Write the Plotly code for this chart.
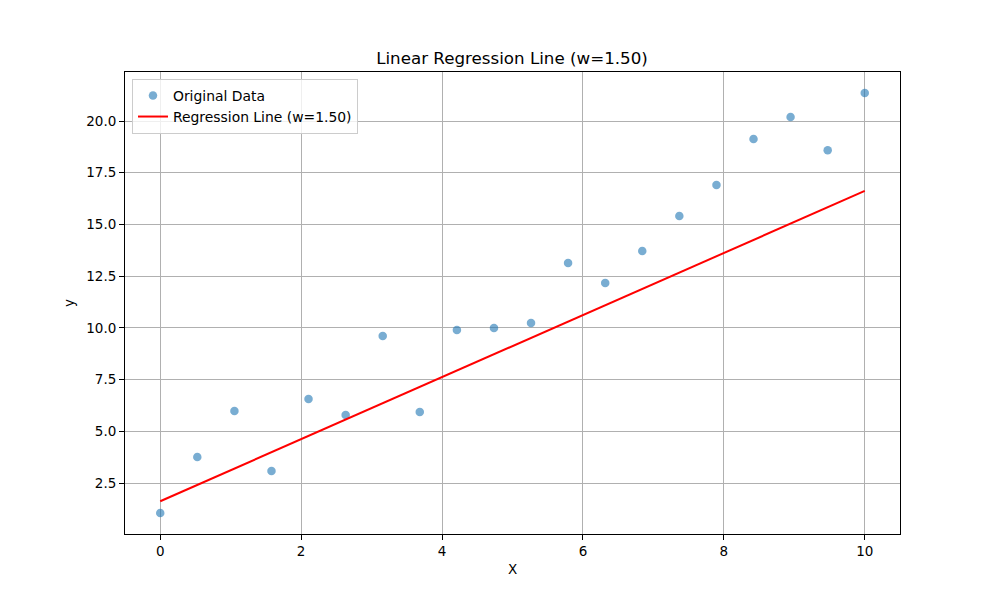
import numpy as np
import plotly.graph_objects as go

x_data = [0.0, 0.526, 1.053, 1.579, 2.105, 2.632, 3.158, 3.684, 4.211, 4.737,
          5.263, 5.789, 6.316, 6.842, 7.368, 7.895, 8.421, 8.947, 9.474, 10.0]
y_data = [1.05, 3.76, 5.98, 3.08, 6.56, 5.79, 9.61, 5.93, 9.90, 9.99,
          10.24, 13.14, 12.17, 13.72, 15.41, 16.91, 19.13, 20.19, 18.59, 21.35]
w = 1.50
b = 1.62
line_x = [0.0, 10.0]
line_y = [w * v + b for v in line_x]

x_ticks = [0, 2, 4, 6, 8, 10]
y_ticks = [2.5, 5.0, 7.5, 10.0, 12.5, 15.0, 17.5, 20.0]

fig = go.Figure()
fig.add_trace(go.Scatter(
    x=x_data, y=y_data, mode="markers", name="Original Data",
    marker=dict(color="rgba(31,119,180,0.6)", size=8.5, line=dict(width=0))))
fig.add_trace(go.Scatter(
    x=line_x, y=line_y, mode="lines", name=f"Regression Line (w={w:.2f})",
    line=dict(color="red", width=2)))

axis_common = dict(
    showline=True, linecolor="black", linewidth=1, mirror=True,
    ticks="outside", ticklen=5, tickwidth=1, tickcolor="black",
    showgrid=True, gridcolor="#b0b0b0", gridwidth=1, zeroline=False,
    tickfont=dict(family="DejaVu Sans", size=13.5, color="black"),
)

fig.update_layout(
    width=1000, height=600,
    paper_bgcolor="white", plot_bgcolor="white",
    margin=dict(l=117, r=108, t=64, b=74),
    title=dict(text=f"Linear Regression Line (w={w:.2f})", x=(512 - 8) / 1000, xanchor="center",
               y=1 - 50 / 600, yanchor="middle",
               font=dict(family="DejaVu Sans", size=16.7, color="black")),
    xaxis=dict(range=[-0.5, 10.5], tickvals=x_ticks, ticktext=[str(t) for t in x_ticks],
               title=dict(text="X", font=dict(family="DejaVu Sans", size=13.5, color="black"), standoff=6),
               **axis_common),
    yaxis=dict(range=[0.035, 22.37], tickvals=y_ticks, ticktext=[f"{t:.1f}" for t in y_ticks],
               title=dict(text="y", font=dict(family="DejaVu Sans", size=13.5, color="black"), standoff=8),
               **axis_common),
    legend=dict(x=0.009, y=0.985, xanchor="left", yanchor="top",
                bgcolor="rgba(255,255,255,0.8)", bordercolor="#cccccc", borderwidth=1,
                font=dict(family="DejaVu Sans", size=13.9, color="black")),
    showlegend=True,
)

fig.write_html("out.html")
